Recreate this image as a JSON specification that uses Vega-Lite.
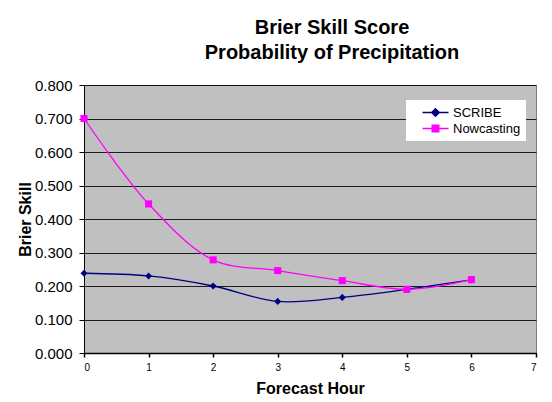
{
  "$schema": "https://vega.github.io/schema/vega-lite/v6.json",
  "autosize": {"type": "none"},
  "width": 452,
  "height": 268,
  "padding": {"left": 84, "top": 85, "right": 16, "bottom": 49},
  "background": "white",
  "config": {
    "font": "Liberation Sans",
    "view": {"fill": "#C0C0C0", "stroke": "#808080", "strokeWidth": 1}
  },
  "title": {
    "text": ["Brier Skill Score", "Probability of Precipitation"],
    "font": "Liberation Sans",
    "fontSize": 20,
    "fontWeight": "bold",
    "color": "black",
    "anchor": "middle",
    "dx": 22,
    "offset": 15,
    "lineHeight": 25
  },
  "data": {
    "values": [
      {"hour": 0, "series": "SCRIBE", "skill": 0.238},
      {"hour": 1, "series": "SCRIBE", "skill": 0.230},
      {"hour": 2, "series": "SCRIBE", "skill": 0.200},
      {"hour": 3, "series": "SCRIBE", "skill": 0.154},
      {"hour": 4, "series": "SCRIBE", "skill": 0.166},
      {"hour": 5, "series": "SCRIBE", "skill": 0.190},
      {"hour": 6, "series": "SCRIBE", "skill": 0.218},
      {"hour": 0, "series": "Nowcasting", "skill": 0.700},
      {"hour": 1, "series": "Nowcasting", "skill": 0.445},
      {"hour": 2, "series": "Nowcasting", "skill": 0.278},
      {"hour": 3, "series": "Nowcasting", "skill": 0.246},
      {"hour": 4, "series": "Nowcasting", "skill": 0.216},
      {"hour": 5, "series": "Nowcasting", "skill": 0.190},
      {"hour": 6, "series": "Nowcasting", "skill": 0.219}
    ]
  },
  "encoding": {
    "x": {
      "field": "hour", "type": "quantitative",
      "scale": {"domain": [0, 7], "nice": false},
      "axis": {
        "title": "Forecast Hour", "titleFontSize": 16, "titleFontWeight": "bold", "titleColor": "black", "titlePadding": 8,
        "values": [0, 1, 2, 3, 4, 5, 6, 7], "format": "d",
        "labelFontSize": 10, "labelColor": "black", "labelPadding": 5,
        "grid": false, "domainColor": "black", "domainWidth": 1.5, "tickColor": "black", "tickSize": 4, "tickWidth": 1.5
      }
    },
    "y": {
      "field": "skill", "type": "quantitative",
      "scale": {"domain": [0, 0.8], "nice": false},
      "axis": {
        "title": "Brier Skill", "titleFontSize": 16, "titleFontWeight": "bold", "titleColor": "black", "titlePadding": 1,
        "values": [0, 0.1, 0.2, 0.3, 0.4, 0.5, 0.6, 0.7, 0.8], "format": ".3f",
        "labelFontSize": 15, "labelColor": "black", "labelPadding": 7,
        "grid": true, "gridColor": "black", "gridOpacity": 0.85, "gridWidth": 1,
        "domainColor": "black", "domainWidth": 1, "tickColor": "black", "tickSize": 5
      }
    }
  },
  "layer": [
    {
      "mark": {"type": "line", "interpolate": "catmull-rom", "strokeWidth": 1.3},
      "encoding": {
        "color": {
          "field": "series", "type": "nominal",
          "scale": {"domain": ["SCRIBE", "Nowcasting"], "range": ["#000080", "#FF00FF"]},
          "legend": {
            "title": null,
            "orient": "none",
            "legendX": 322,
            "legendY": 15,
            "fillColor": "white",
            "padding": 5,
            "symbolOffset": 17,
            "labelFontSize": 13,
            "labelColor": "black",
            "symbolSize": 169,
            "symbolStrokeWidth": 1.3,
            "rowPadding": 1,
            "labelOffset": 10,
            "encode": {
              "symbols": {
                "update": {
                  "shape": {"signal": "datum.value === 'SCRIBE' ? 'M-2,0L2,0M0,-0.6L0.6,0L0,0.6L-0.6,0Z' : 'M-2,0L2,0M-0.52,-0.52L0.52,-0.52L0.52,0.52L-0.52,0.52Z'"},
                  "fill": {"signal": "datum.value === 'SCRIBE' ? '#000080' : '#FF00FF'"},
                  "stroke": {"signal": "datum.value === 'SCRIBE' ? '#000080' : '#FF00FF'"},
                  "strokeWidth": {"value": 1.3},
                  "fillOpacity": {"value": 1},
                  "strokeOpacity": {"value": 1}
                }
              }
            }
          }
        }
      }
    },
    {
      "transform": [{"filter": "datum.series === 'SCRIBE'"}],
      "mark": {"type": "point", "filled": true, "opacity": 1, "shape": "diamond", "size": 50, "color": "#000080"},
      "encoding": {}
    },
    {
      "transform": [{"filter": "datum.series === 'Nowcasting'"}],
      "mark": {"type": "point", "filled": true, "opacity": 1, "shape": "square", "size": 50, "color": "#FF00FF"},
      "encoding": {}
    }
  ]
}
